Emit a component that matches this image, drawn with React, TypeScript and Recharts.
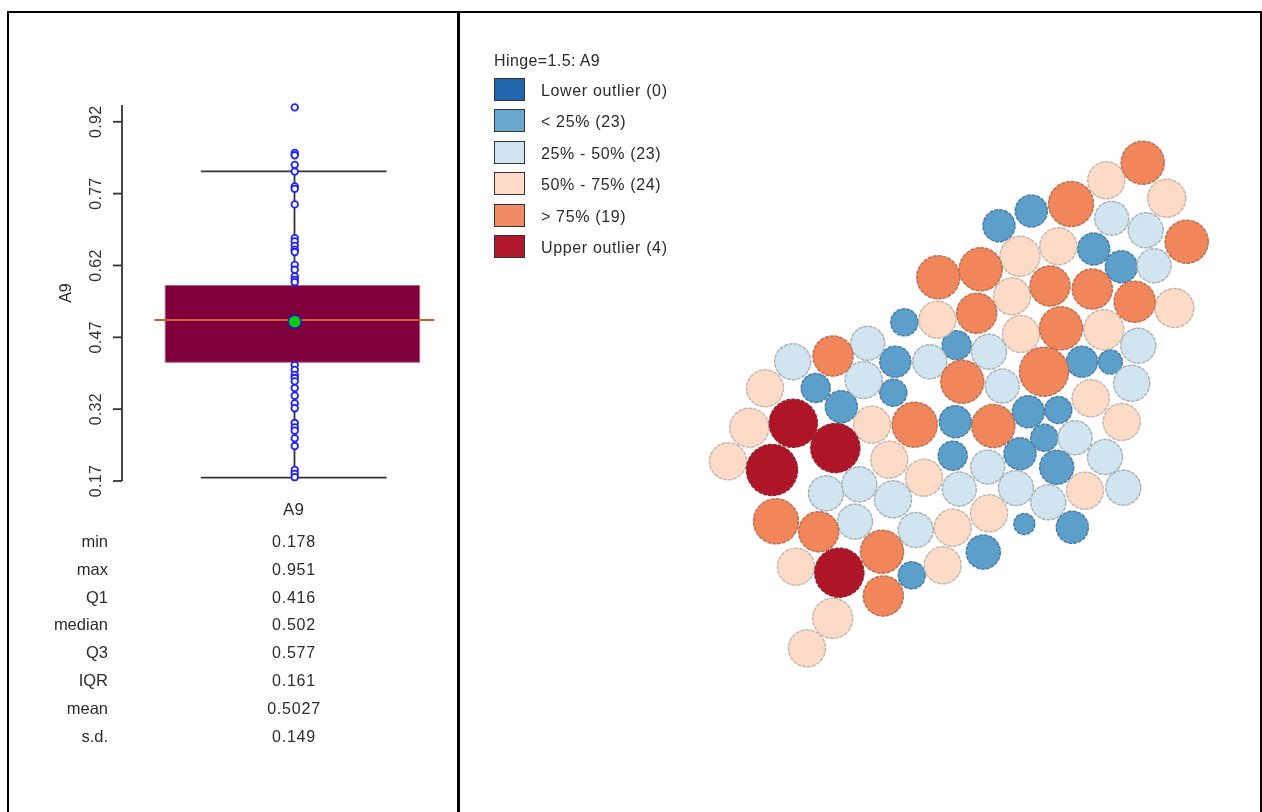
import React from "react";
import { ScatterChart, Scatter, XAxis, YAxis, ZAxis, ReferenceArea, ReferenceLine } from "recharts";

const FONT = "'Liberation Sans', Arial, sans-serif";

// box plot values
const yTicks = [0.17, 0.32, 0.47, 0.62, 0.77, 0.92];
const observations = [
    0.95, 0.855, 0.85, 0.83, 0.816, 0.785, 0.78, 0.7475, 0.677, 0.67, 0.661, 0.653, 0.648, 0.621, 0.611, 0.597, 0.59, 0.585,
    0.412, 0.402, 0.3915, 0.385, 0.378, 0.364, 0.348, 0.332, 0.322, 0.291, 0.282, 0.275, 0.259, 0.243, 0.193, 0.185, 0.178,
];
const whiskerLow = 0.177;
const whiskerHigh = 0.8164;
const boxLow = 0.418;
const boxHigh = 0.578;
const medianLine = 0.506;
const meanValue = 0.5027;

const statNames = ["min", "max", "Q1", "median", "Q3", "IQR", "mean", "s.d."];
const statValues = ["0.178", "0.951", "0.416", "0.502", "0.577", "0.161", "0.5027", "0.149"];

// map bubbles as [x, y, A9 value]; bubble area follows the value
const belowQ1: number[][] = [
    [999, 225.7, 0.376], [1031.3, 211, 0.376], [1093.7, 249, 0.376], [1121.3, 266.7, 0.376], [904.3, 322.3, 0.268],
    [956.7, 345.3, 0.309], [895.3, 361.7, 0.353], [1082, 361.7, 0.353], [1110.3, 362, 0.212], [893.3, 392.7, 0.268],
    [815.7, 388, 0.309], [841.3, 406.7, 0.376], [955.3, 421.7, 0.376], [952.7, 455.7, 0.309], [911.7, 575.3, 0.268],
    [983.3, 552, 0.425], [1028.3, 411.7, 0.376], [1058.3, 410, 0.268], [1044.3, 437.7, 0.268], [1020, 453.7, 0.376],
    [1056.7, 467.3, 0.425], [1024.3, 524, 0.162], [1072.3, 527.3, 0.376],
];
const q1ToMedian: number[][] = [
    [1111.7, 218.3, 0.425], [1145.7, 230.3, 0.45], [1154, 265.7, 0.425], [1138.3, 345.7, 0.45], [1131.7, 383.3, 0.476],
    [989, 351.7, 0.45], [929.7, 361.7, 0.425], [1002.3, 386, 0.425], [792.7, 361.7, 0.476], [867.7, 343.3, 0.425],
    [863.7, 380, 0.503], [826, 493.3, 0.45], [859.3, 484.3, 0.45], [893, 499.3, 0.503], [855, 521.7, 0.45],
    [915.7, 530, 0.45], [959.3, 489, 0.425], [987.7, 467, 0.425], [1016, 488, 0.45], [1048.3, 502.3, 0.45],
    [1075, 437.7, 0.425], [1105, 457, 0.45], [1123.3, 487.7, 0.45],
];
const medianToQ3: number[][] = [
    [1106.3, 180.3, 0.503], [1166.7, 198.3, 0.531], [1020, 256.3, 0.588], [1058.3, 246.3, 0.503], [1012, 296.3, 0.503],
    [937.3, 319.7, 0.503], [1021, 334, 0.503], [1103.7, 329.7, 0.588], [1174.3, 308, 0.559], [1090.7, 398.3, 0.503],
    [1121.7, 422, 0.503], [1085, 490.7, 0.503], [989, 513.3, 0.503], [952.7, 527.7, 0.503], [942.7, 565.3, 0.503],
    [765, 388.3, 0.503], [749.3, 427.7, 0.559], [728, 461.3, 0.503], [872, 424.7, 0.503], [889.3, 459.7, 0.503],
    [924, 477.7, 0.503], [796, 566.7, 0.503], [832.7, 618.3, 0.588], [807, 648.3, 0.503],
];
const aboveQ3: number[][] = [
    [1142.7, 162.7, 0.68], [1071, 204, 0.744], [1186.7, 241.7, 0.68], [938.3, 277.3, 0.68], [980.7, 269.3, 0.68],
    [1050, 286, 0.588], [1092.3, 289, 0.588], [1134.7, 301.7, 0.618], [976.7, 313.3, 0.588], [1061, 328.3, 0.68],
    [1044, 371.7, 0.883], [962.3, 381.7, 0.68], [833, 356, 0.588], [914.7, 424.7, 0.744], [993.3, 426, 0.68],
    [776, 521.3, 0.744], [818.7, 531.7, 0.588], [882, 551.7, 0.68], [883.3, 596, 0.588],
];
const upperOutliers: number[][] = [
    [793.3, 423.3, 0.847], [835.3, 448, 0.883], [772, 470, 0.956], [839.3, 572.7, 0.883],
];

const legendLabels = ["Lower outlier (0)", "< 25% (23)", "25% - 50% (23)", "50% - 75% (24)", "> 75% (19)", "Upper outlier (4)"];
const legendColors = ["#2166ac", "#67a9cf", "#d1e5f0", "#fddbc7", "#ef8a62", "#b2182b"];

const toPoints = (rows: number[][]) => rows.map(([x, y, value]) => ({ x, y, value }));

const mapSeries = [
    { rows: belowQ1, fill: "#5c9fcb", stroke: "#4a7ea6" },
    { rows: q1ToMedian, fill: legendColors[2], stroke: "#aab3b9" },
    { rows: medianToQ3, fill: legendColors[3], stroke: "#c7b7ac" },
    { rows: aboveQ3, fill: "#f0865a", stroke: "#bd7152" },
    { rows: upperOutliers, fill: "#ae1628", stroke: "#95202f" },
];

const RotatedTick = ({ x, y, payload }: any) => (
    <text x={x - 10} y={y} transform={`rotate(-90 ${x - 10} ${y})`} textAnchor="middle" fontFamily={FONT} fontSize={16} letterSpacing={0.3} fill="#333">
        {payload.value.toFixed(2)}
    </text>
);

const BoxPlot = () => (
    <ScatterChart width={450} height={812} margin={{ top: 105, right: 10, bottom: 331, left: 62 }}>
        <XAxis type="number" dataKey="x" domain={[-1.35, 1.15]} hide />
        <YAxis
            type="number"
            dataKey="y"
            width={60}
            domain={[0.17, 0.955]}
            ticks={yTicks}
            interval={0}
            tick={<RotatedTick />}
            tickSize={9}
            stroke="#333"
            strokeWidth={1.8}
        />
        <ZAxis zAxisId="obs" dataKey="z" range={[34, 34]} />
        <ZAxis zAxisId="mean" dataKey="z" range={[130, 130]} />
        <ReferenceLine segment={[{ x: 0.006, y: whiskerLow }, { x: 0.006, y: boxLow }]} stroke="#333" strokeWidth={1.8} />
        <ReferenceLine segment={[{ x: 0.006, y: boxHigh }, { x: 0.006, y: whiskerHigh }]} stroke="#333" strokeWidth={1.8} />
        <ReferenceLine segment={[{ x: -0.73, y: whiskerHigh }, { x: 0.73, y: whiskerHigh }]} stroke="#333" strokeWidth={1.8} />
        <ReferenceLine segment={[{ x: -0.73, y: whiskerLow }, { x: 0.73, y: whiskerLow }]} stroke="#333" strokeWidth={1.8} />
        <Scatter
            zAxisId="obs"
            data={observations.map((y) => ({ x: 0.008, y, z: 1 }))}
            fill="#fff"
            stroke="#2020ff"
            strokeWidth={1.8}
            isAnimationActive={false}
        />
        <ReferenceArea x1={-1.01} x2={0.99} y1={boxLow} y2={boxHigh} fill="#7f003a" fillOpacity={1} stroke="#a8597c" strokeWidth={1} />
        <Scatter
            zAxisId="mean"
            data={[{ x: 0.008, y: meanValue, z: 1 }]}
            fill="#0ccc0c"
            stroke="#1a1ae0"
            strokeWidth={1.5}
            isAnimationActive={false}
        />
        <ReferenceLine segment={[{ x: -1.095, y: medianLine }, { x: 1.105, y: medianLine }]} stroke="#cf5f30" strokeWidth={2} />
    </ScatterChart>
);

const BubbleMap = () => (
    <ScatterChart width={800} height={812} margin={{ top: 0, right: 0, bottom: 0, left: 0 }}>
        <XAxis type="number" dataKey="x" domain={[460, 1260]} hide />
        <YAxis type="number" dataKey="y" domain={[0, 812]} reversed hide />
        <ZAxis type="number" dataKey="value" domain={[0, 1]} range={[0, 2136]} />
        {mapSeries.map((s, i) => (
            <Scatter
                key={i}
                data={toPoints(s.rows)}
                fill={s.fill}
                stroke={s.stroke}
                strokeWidth={1.5}
                strokeDasharray="4 1"
                isAnimationActive={false}
            />
        ))}
    </ScatterChart>
);

const textBase: React.CSSProperties = { position: "absolute", fontFamily: FONT, color: "#2b2b2b", whiteSpace: "nowrap", lineHeight: "18px", fontSize: 16 };

export default function App() {
    return (
        <div style={{ position: "absolute", left: 0, top: 0, width: 1262, height: 812, background: "#fff", overflow: "hidden", filter: "blur(0.5px)" }}>
            <div style={{ position: "absolute", left: 7, top: 11, width: 1255, height: 2, background: "#000" }} />
            <div style={{ position: "absolute", left: 7, top: 11, width: 2, height: 801, background: "#000" }} />
            <div style={{ position: "absolute", left: 457, top: 11, width: 3, height: 801, background: "#000" }} />
            <div style={{ position: "absolute", left: 1260, top: 11, width: 2, height: 801, background: "#000" }} />

            <div style={{ position: "absolute", left: 0, top: 0 }}><BoxPlot /></div>
            <div style={{ position: "absolute", left: 460, top: 0 }}><BubbleMap /></div>

            <div style={{ ...textBase, left: 39, top: 284, transform: "rotate(-90deg)", width: 54, textAlign: "center" }}>A9</div>
            <div style={{ ...textBase, left: 253.5, top: 501, width: 80, textAlign: "center", fontSize: 17 }}>A9</div>
            {statNames.map((name, i) => (
                <React.Fragment key={name}>
                    <div style={{ ...textBase, left: 0, width: 108, textAlign: "right", top: 532 + i * 27.8, fontSize: 16.5 }}>{name}</div>
                    <div style={{ ...textBase, left: 254, width: 80, textAlign: "center", top: 533 + i * 27.8, letterSpacing: 0.8 }}>{statValues[i]}</div>
                </React.Fragment>
            ))}

            <div style={{ ...textBase, left: 494, top: 52, letterSpacing: 0.4 }}>Hinge=1.5: A9</div>
            {legendLabels.map((label, i) => (
                <React.Fragment key={label}>
                    <div style={{ position: "absolute", left: 494, top: 78 + i * 31.4, width: 31, height: 23, boxSizing: "border-box", border: "1.8px solid #333", background: legendColors[i] }} />
                    <div style={{ ...textBase, left: 541, top: 82 + i * 31.4, letterSpacing: 0.65 }}>{label}</div>
                </React.Fragment>
            ))}
        </div>
    );
}
